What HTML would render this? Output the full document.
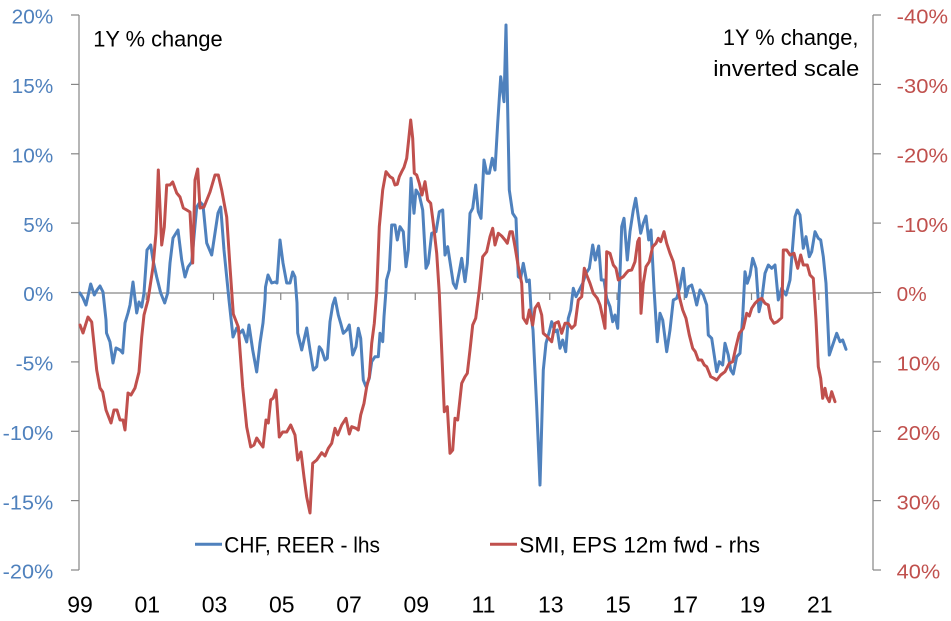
<!DOCTYPE html>
<html>
<head>
<meta charset="utf-8">
<style>
html,body{margin:0;padding:0;background:#fff;}
svg{display:block;}
text{font-family:"Liberation Sans",Arial,sans-serif;}
</style>
</head>
<body>
<svg width="951" height="621" viewBox="0 0 951 621" xmlns="http://www.w3.org/2000/svg">
<rect x="0" y="0" width="951" height="621" fill="#fff"/>
<!-- axes -->
<g stroke="#868686" stroke-width="1.2" fill="none">
  <line x1="79" y1="15" x2="79" y2="570"/>
  <line x1="873" y1="15" x2="873" y2="570"/>
  <line x1="79" y1="293" x2="873" y2="293"/>
  <!-- left ticks -->
  <line x1="71" y1="15" x2="79" y2="15"/>
  <line x1="71" y1="84.4" x2="79" y2="84.4"/>
  <line x1="71" y1="153.8" x2="79" y2="153.8"/>
  <line x1="71" y1="223.1" x2="79" y2="223.1"/>
  <line x1="71" y1="292.5" x2="79" y2="292.5"/>
  <line x1="71" y1="361.9" x2="79" y2="361.9"/>
  <line x1="71" y1="431.3" x2="79" y2="431.3"/>
  <line x1="71" y1="500.6" x2="79" y2="500.6"/>
  <line x1="71" y1="570" x2="79" y2="570"/>
  <!-- right ticks -->
  <line x1="873" y1="15" x2="881" y2="15"/>
  <line x1="873" y1="84.4" x2="881" y2="84.4"/>
  <line x1="873" y1="153.8" x2="881" y2="153.8"/>
  <line x1="873" y1="223.1" x2="881" y2="223.1"/>
  <line x1="873" y1="292.5" x2="881" y2="292.5"/>
  <line x1="873" y1="361.9" x2="881" y2="361.9"/>
  <line x1="873" y1="431.3" x2="881" y2="431.3"/>
  <line x1="873" y1="500.6" x2="881" y2="500.6"/>
  <line x1="873" y1="570" x2="881" y2="570"/>
  <!-- x ticks -->
  <line x1="146.25" y1="293" x2="146.25" y2="300"/>
  <line x1="213.5" y1="293" x2="213.5" y2="300"/>
  <line x1="280.75" y1="293" x2="280.75" y2="300"/>
  <line x1="348" y1="293" x2="348" y2="300"/>
  <line x1="415.25" y1="293" x2="415.25" y2="300"/>
  <line x1="482.5" y1="293" x2="482.5" y2="300"/>
  <line x1="549.75" y1="293" x2="549.75" y2="300"/>
  <line x1="617" y1="293" x2="617" y2="300"/>
  <line x1="684.25" y1="293" x2="684.25" y2="300"/>
  <line x1="751.5" y1="293" x2="751.5" y2="300"/>
  <line x1="818.75" y1="293" x2="818.75" y2="300"/>
</g>

<!-- left labels -->
<g fill="#4F81BD" font-size="20" text-anchor="end">
  <text x="53.3" y="23.7" textLength="41.6" lengthAdjust="spacingAndGlyphs">20%</text>
  <text x="53.3" y="93.1" textLength="41.6" lengthAdjust="spacingAndGlyphs">15%</text>
  <text x="53.3" y="162.5" textLength="41.6" lengthAdjust="spacingAndGlyphs">10%</text>
  <text x="53.3" y="231.8" textLength="30" lengthAdjust="spacingAndGlyphs">5%</text>
  <text x="53.3" y="301.2" textLength="30" lengthAdjust="spacingAndGlyphs">0%</text>
  <text x="53.3" y="370.6" textLength="37.7" lengthAdjust="spacingAndGlyphs">-5%</text>
  <text x="53.3" y="440" textLength="50.6" lengthAdjust="spacingAndGlyphs">-10%</text>
  <text x="53.3" y="509.3" textLength="50.6" lengthAdjust="spacingAndGlyphs">-15%</text>
  <text x="53.3" y="578.7" textLength="50.6" lengthAdjust="spacingAndGlyphs">-20%</text>
</g>
<!-- right labels -->
<g fill="#C0504D" font-size="20">
  <text x="896.7" y="23.7" textLength="51.3" lengthAdjust="spacingAndGlyphs">-40%</text>
  <text x="896.7" y="93.1" textLength="51.3" lengthAdjust="spacingAndGlyphs">-30%</text>
  <text x="896.7" y="162.5" textLength="51.3" lengthAdjust="spacingAndGlyphs">-20%</text>
  <text x="896.7" y="231.8" textLength="51.3" lengthAdjust="spacingAndGlyphs">-10%</text>
  <text x="896.7" y="301.2" textLength="30" lengthAdjust="spacingAndGlyphs">0%</text>
  <text x="896.7" y="370.6" textLength="43.5" lengthAdjust="spacingAndGlyphs">10%</text>
  <text x="896.7" y="440" textLength="43.5" lengthAdjust="spacingAndGlyphs">20%</text>
  <text x="896.7" y="509.3" textLength="43.5" lengthAdjust="spacingAndGlyphs">30%</text>
  <text x="896.7" y="578.7" textLength="43.5" lengthAdjust="spacingAndGlyphs">40%</text>
</g>
<!-- x labels -->
<g fill="#000" font-size="23" text-anchor="middle">
  <text x="80" y="612.5">99</text>
  <text x="147.3" y="612.5">01</text>
  <text x="214.5" y="612.5">03</text>
  <text x="281.8" y="612.5">05</text>
  <text x="349" y="612.5">07</text>
  <text x="416.3" y="612.5">09</text>
  <text x="483.5" y="612.5">11</text>
  <text x="550.8" y="612.5">13</text>
  <text x="618" y="612.5">15</text>
  <text x="685.3" y="612.5">17</text>
  <text x="752.5" y="612.5">19</text>
  <text x="819.8" y="612.5">21</text>
</g>

<!-- titles -->
<g fill="#000" font-size="22">
  <text x="93.3" y="46.5" textLength="129.4" lengthAdjust="spacingAndGlyphs">1Y % change</text>
  <text x="858.5" y="45" text-anchor="end" textLength="135.6" lengthAdjust="spacingAndGlyphs">1Y % change,</text>
  <text x="859.3" y="76" text-anchor="end" textLength="146" lengthAdjust="spacingAndGlyphs">inverted scale</text>
</g>

<!-- legend -->
<line x1="195" y1="544.3" x2="222" y2="544.3" stroke="#4F81BD" stroke-width="3"/>
<text x="224.3" y="552.3" font-size="22" fill="#000" textLength="155.7" lengthAdjust="spacingAndGlyphs">CHF, REER - lhs</text>
<line x1="490" y1="544.3" x2="517" y2="544.3" stroke="#C0504D" stroke-width="3"/>
<text x="519.3" y="552.3" font-size="22" fill="#000" textLength="240.7" lengthAdjust="spacingAndGlyphs">SMI, EPS 12m fwd - rhs</text>

<!-- blue series -->
<polyline fill="none" stroke="#4F81BD" stroke-width="3" stroke-linejoin="round" stroke-linecap="round" points="
80,293 83,298 86,305 90.7,284 94.3,295 97,290 100,286 103,292 106,320 106.5,333 110,342 113,363 116,348 120,350 122.7,353 125,323 128,313 130,305 133,282 136.7,313 139,302 141.7,307 144,293 147,250 150.7,245 153,260 156.7,277 160.7,293 164.7,303 167.7,293 170,263 173,238 178,230 181.7,260 185,277 188,267 191.7,262 196.7,207 200,202 203,205 206.7,243 211.7,255 215,233 218,213 220.7,207 224,250 229,300 233,337 236.7,328 240,333 242.7,330 246.7,342 249,325 252.7,350 256.7,372 260,343 263,323 265,300 265.5,287 268,275 271.7,283 275,282 277,283 280,240 283,263 286.7,283 290,283 292.7,272 295,277 297,303 297.7,333 301.7,350 306.7,328 310,350 313.3,370 316.7,366.7 319.3,346.7 321.7,350 325,360 327.3,358.3 330,321.7 332.7,305 335,298 338.3,315 340.7,323.3 343.3,333.3 346.7,330 349.3,325 352.7,355 356,346.7 358.3,328.3 360.7,338.3 363.3,380 366,386.7 369.3,378.3 371.7,361.7 375,356.7 378.3,356.7 380,333.3 382.7,341.7 384,316.7 386,290 386.5,280 389.3,270 391.7,225 395,225 397.3,240 400,226.7 403.3,231.7 406,266.7 408.3,250 411,178.3 414,213.3 416,190 419.3,195 422.7,210 426,268.3 428.3,263.3 431.7,233.3 436,231.7 439.3,211.7 442.7,210 445,255 447.7,246.7 450,261.7 453.3,283.3 456,288.3 459.3,271.7 461.7,258.3 465,281.7 467.3,263.3 470,213.3 472.7,208.3 475.7,185 478.3,211.7 481,218.3 484,160 486.7,173.3 489.3,173.3 492.3,158.3 495,170 497.7,123.3 500.7,76.7 504,101.7 506,25 507.7,110 509.3,190 512.7,213.3 516,218.3 518.3,276.7 520.7,278.3 523.3,263.3 526.7,281.7 529.3,280 531.7,320 533,330 536.7,406.7 540,485 543.3,370 546,343.3 549.3,331.7 551.7,321.7 555,331.7 557.3,330 560,348.3 562.7,340 565.7,351.7 568.3,318.3 570.7,310 573.3,288.3 576,296.7 579.3,290 582.7,283.3 586,273.3 589.3,268.3 592.7,245 595.3,260 598.7,246 601.3,280 604,280 606.7,298.3 610,306.7 612.7,321.7 615,315 617.7,328.3 620,273.3 621.7,226.7 624,218.3 627.3,260 630,231.7 633.3,210 635.7,198.3 638.3,216.7 640.7,233.3 643.3,223.3 646,216 648.7,240 651,230 654,288.3 657.3,341.7 660,313.3 662.7,320 666.7,351.7 670,330 673.3,300 676.7,298.3 680,286.7 683.3,268.3 686,296.7 688.7,286.7 691.7,285 694,293.3 696.7,305 700,290 703.3,295 706.7,305 708.3,335 711.7,338.3 716.7,371.7 719.3,361.7 722.7,365 725,343.3 728.3,355 730.7,370 733.3,374 736.7,356.7 740,353.3 742.7,316.7 745,271.7 747.3,283.3 750,275 752.7,258.3 756,268.3 759,311.7 761.7,300 765,273.3 768.3,265 771.7,268.3 775,265 778.3,300 781.7,288.3 786,295 790,280 795,216.7 797.3,210 800,215 803.3,248.3 806,236.7 809.3,256.7 811.7,251.7 815,231.7 818.3,238.3 820.7,240 823.3,256.7 826,283.3 829.3,355 832.7,345 836.7,333.3 840,341.7 842.7,340 846,349.3"/>

<!-- red series -->
<polyline fill="none" stroke="#C0504D" stroke-width="3" stroke-linejoin="round" stroke-linecap="round" points="
80,325 83,333 88,317 91.7,322 96.7,370 100,388 102.7,392 106,410 111,423 114,410 117,410 120,420 123,420 125,430 128,393 131,395 135,388 139,372 141.7,337 144,315 148,300 153,267 156,233 158.3,170 161.7,245 164.3,227 166.7,185 170,185 172.7,182 176.7,193 180,197 183.3,208 186.7,210 190,212 192.7,263 195,180 197.7,169 200,208 204,207 210,192 215,175 218.3,175 221.7,190 226.7,217 230,267 233.3,314 238.3,327 242.7,387 246.7,427 250.7,447 254,445 256.7,438 260,443 263,447 266,420 268.3,423 270.7,400 273.3,398 276,390 279.3,437 282.7,432 286.7,432 290.7,425 295,435 297.7,460 301,452 304,477 306.7,497 310,513 312.7,463.3 316.7,460 321.7,452.7 325,456 328.3,448.3 331.7,443.3 335,428.3 337.7,435 341.7,425 346,418.3 349.3,434 351.7,426.7 356,428.3 358.3,430 360.7,415 364,403.3 366.7,386.7 369.3,376.7 371.7,343.3 374.3,323.3 376.7,293.3 379.3,226.7 382.7,190 386,171.7 390,176.7 392.7,178.3 395,185 397.3,184.3 399.3,176.7 401.7,171.7 404,167.3 406.7,158.3 408.3,143.3 410.7,120 412.7,138.3 414.3,173.3 416.7,175 419.3,183.3 422,195 425,181.7 427.7,200 430.7,203.3 433.3,223.3 436.7,253.3 439.3,293.3 441.7,350 444.3,411.7 447.3,406.7 450,453.3 452.7,450 455,418.3 457.7,420 461.7,383.3 465,376.7 467.3,373.3 470,350 472.7,325 475.7,318.3 479.3,290 482.7,256.7 486.7,251.7 490,236.7 492.7,228.3 495,245 498.3,233.3 501.7,236 505,240 507.3,243.3 510,231.7 512.3,231.7 515,246.7 518.3,266.7 521.7,283.3 523.3,318 526.7,323.3 529.3,310 532.7,325 535,308.3 538.3,303.3 541.7,315 543.3,333.3 547.3,336.7 551.7,341.7 555,323.3 558.3,321.7 561.7,333.3 565,323.3 568.3,323.3 571.7,328.3 575,325 578.3,300 581.7,296.7 584.3,268.3 586.7,275 590,283.3 593.3,293.3 597.3,298.3 600,305 603.3,320 605,328.3 606.7,251.7 610,253.3 613.3,265 616,268.3 618.3,280 620.7,278.3 623.3,276.7 626,273.3 628.3,270.7 631.7,270 635,261.7 637.7,241.7 639.3,238.3 641,313.3 643.3,283.3 646,266.7 649.3,261.7 652.7,246.7 656,243.3 658.3,238.3 660.7,241.7 664,231.7 666.7,243.3 670,253.3 673.3,261.7 676.7,280 679.3,296.7 682.7,310 686,318.3 689.3,335 692.7,348.3 695.3,351.7 698.3,360 701.7,360 704.3,365 706.7,366.7 710.7,376.7 714,378.3 716.7,380 720.7,375 725,371.7 729.3,363.3 732.7,361.7 736,346.7 739.3,333.3 743.3,328.3 746.7,313.3 749.3,316 751.7,308.3 755,303.3 758.3,300 761.7,298.3 765,303.3 768.3,305 770.7,318.3 774,323.3 777.3,321.7 781.7,317.7 783.3,250 786.7,250 790,255 794,253.3 797.7,268.3 800.7,255 803.3,265 807.3,265 810,275 813.3,278.3 816,320 818.3,366.7 820.7,378.3 822.7,398.3 825,388.3 826.7,396.7 829.3,401.7 831.7,391.7 835,401.7"/>
</svg>
</body>
</html>
